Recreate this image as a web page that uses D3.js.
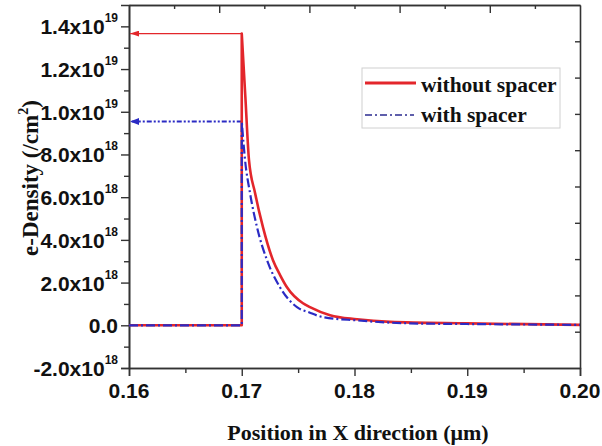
<!DOCTYPE html>
<html>
<head>
<meta charset="utf-8">
<script src="https://cdn.jsdelivr.net/npm/d3@7"></script>
<style>
    body { margin: 0; background: #fff; }
    .frame path.domain { stroke: #333; stroke-width: 1.6px; }
    .frame line { stroke: #333; stroke-width: 1.4px; }
    .ticklab { font-family: "Liberation Sans", Arial, sans-serif; font-weight: bold; fill: #111; }
    .title { font-family: "Liberation Serif", "Times New Roman", serif; font-weight: bold; fill: #111; }
</style>
</head>
<body>
<svg id="chart" width="602" height="446"></svg>
<script>
// data (x in um, density in /cm2)
// first three points are the step at 0.17, the rest is the decay
var xRed = [0.160, 0.170, 0.170, 0.17032, 0.17064, 0.17118, 0.17188, 0.17277, 0.1734, 0.17401, 0.17543, 0.17605, 0.17783, 0.18022, 0.18315, 0.1900, 0.2000];
var yRed = [0, 0, 1.366e19, 1.07e19, 7.75e18, 6.2e18, 4.6e18, 3.05e18, 2.35e18, 1.78e18, 1.03e18, 8.5e17, 4.7e17, 2.8e17, 1.6e17, 9e16, 2e16];

var xBlue = [0.160, 0.170, 0.170, 0.17029, 0.17073, 0.17135, 0.17224, 0.17339, 0.1749, 0.1760, 0.17721, 0.18022, 0.18492, 0.1900, 0.2000];
var yBlue = [0, 0, 9.55e18, 7.75e18, 6.2e18, 4.6e18, 3.05e18, 1.78e18, 8.5e17, 6.0e17, 3.8e17, 2.3e17, 9e16, 6e16, 2e16];

// arrows pointing at the peak values
var peakRed = 1.366e19;
var peakBlue = 9.545e18;

var xTicks = [0.16, 0.17, 0.18, 0.19, 0.20];
var xTickLabels = ['0.16', '0.17', '0.18', '0.19', '0.20'];
var yTicks = [-2e18, 0, 2e18, 4e18, 6e18, 8e18, 1e19, 1.2e19, 1.4e19];
var yTickMant = ['-2.0x10', '0.0', '2.0x10', '4.0x10', '6.0x10', '8.0x10', '1.0x10', '1.2x10', '1.4x10'];
var yTickExp = ['18', '', '18', '18', '18', '18', '19', '19', '19'];

var legendNames = ['without spacer', 'with spacer'];

var svg = d3.select('#chart');
// plot box (window.top is reserved, so no plain "top" here)
var pLeft = 129, pRight = 580, pTop = 5, pBottom = 368;

var x = d3.scaleLinear().domain([0.16, 0.20]).range([pLeft, pRight]);
var y = d3.scaleLinear().domain([-2e18, 1.5e19]).range([pBottom, pTop]);

// top and right axes have their own tick spacing in the original
var xTop = d3.scaleLinear().domain([0, 5]).range([pLeft, pRight]);
var yRight = d3.scaleLinear().domain([0, 10]).range([pBottom, pTop]);

var halfX = [0.165, 0.175, 0.185, 0.195];
var halfY = [-1e18, 1e18, 3e18, 5e18, 7e18, 9e18, 1.1e19, 1.3e19];

// bottom axis
svg.append('g').attr('class', 'frame')
    .attr('transform', 'translate(0,' + pBottom + ')')
    .call(d3.axisBottom(x).tickValues(xTicks).tickSize(8).tickFormat(''));
svg.append('g').attr('class', 'frame')
    .attr('transform', 'translate(0,' + pBottom + ')')
    .call(d3.axisBottom(x).tickValues(halfX).tickSize(5).tickFormat('').tickSizeOuter(0));

// left axis
svg.append('g').attr('class', 'frame')
    .attr('transform', 'translate(' + pLeft + ',0)')
    .call(d3.axisLeft(y).tickValues(yTicks).tickSize(8).tickFormat(''));
svg.append('g').attr('class', 'frame')
    .attr('transform', 'translate(' + pLeft + ',0)')
    .call(d3.axisLeft(y).tickValues(halfY).tickSize(5).tickFormat('').tickSizeOuter(0));

// top axis, ticks inward
svg.append('g').attr('class', 'frame')
    .attr('transform', 'translate(0,' + pTop + ')')
    .call(d3.axisBottom(xTop).tickValues([1, 2, 3, 4]).tickSize(8).tickFormat('').tickSizeOuter(0));
svg.append('g').attr('class', 'frame')
    .attr('transform', 'translate(0,' + pTop + ')')
    .call(d3.axisBottom(xTop).tickValues([0.5, 1.5, 2.5, 3.5, 4.5]).tickSize(4).tickFormat('').tickSizeOuter(0));

// right axis, ticks inward
svg.append('g').attr('class', 'frame')
    .attr('transform', 'translate(' + pRight + ',0)')
    .call(d3.axisLeft(yRight).tickValues(d3.range(1, 10)).tickSize(5).tickFormat('').tickSizeOuter(0));

// tick labels
svg.selectAll('.xlab').data(xTicks).enter().append('text')
    .attr('class', 'ticklab xlab')
    .attr('x', function(d) { return x(d); })
    .attr('y', 398)
    .attr('text-anchor', 'middle')
    .style('font-size', '21px')
    .text(function(d, i) { return xTickLabels[i]; });

var ylab = svg.selectAll('.ylab').data(yTicks).enter().append('text')
    .attr('class', 'ticklab ylab')
    .attr('x', 118)
    .attr('y', function(d) { return y(d) + 8; })
    .attr('text-anchor', 'end')
    .style('font-size', '21px');
ylab.append('tspan').text(function(d, i) { return yTickMant[i]; });
ylab.append('tspan')
    .attr('dy', -12)
    .style('font-size', '12px')
    .text(function(d, i) { return yTickExp[i]; });

// axis titles
svg.append('text').attr('class', 'title')
    .attr('x', 358).attr('y', 440)
    .attr('text-anchor', 'middle')
    .style('font-size', '22px')
    .text('Position in X direction (\u03bcm)');

var yt = svg.append('text').attr('class', 'title')
    .attr('transform', 'translate(38,178) rotate(-90)')
    .attr('text-anchor', 'middle')
    .style('font-size', '23px');
yt.append('tspan').text('e-Density (/cm');
yt.append('tspan').attr('dy', -10).style('font-size', '14px').text('2');
yt.append('tspan').attr('dy', 10).text(')');

// arrow heads, tip at the end of the line
var defs = svg.append('defs');
defs.append('marker').attr('id', 'headRed')
    .attr('viewBox', '0 0 10 10').attr('refX', 10).attr('refY', 5)
    .attr('markerWidth', 9).attr('markerHeight', 6).attr('markerUnits', 'userSpaceOnUse')
    .attr('preserveAspectRatio', 'none')
    .attr('orient', 'auto')
    .append('path').attr('d', 'M0,0L10,5L0,10z').attr('fill', '#e3262b');
defs.append('marker').attr('id', 'headBlue')
    .attr('viewBox', '0 0 10 10').attr('refX', 10).attr('refY', 5)
    .attr('markerWidth', 9).attr('markerHeight', 7).attr('markerUnits', 'userSpaceOnUse')
    .attr('preserveAspectRatio', 'none')
    .attr('orient', 'auto')
    .append('path').attr('d', 'M0,0L10,5L0,10z').attr('fill', '#2b2bc4');

svg.append('line')
    .attr('x1', x(0.170)).attr('x2', x(0.1601))
    .attr('y1', y(peakRed)).attr('y2', y(peakRed))
    .attr('stroke', '#e3262b').attr('stroke-width', 1.2)
    .attr('marker-end', 'url(#headRed)');
svg.append('line')
    .attr('x1', x(0.170)).attr('x2', x(0.1601))
    .attr('y1', y(peakBlue)).attr('y2', y(peakBlue))
    .attr('stroke', '#2b2bc4').attr('stroke-width', 2)
    .attr('stroke-dasharray', '5,2,2,2,2,2')
    .attr('marker-end', 'url(#headBlue)');

// the two curves, red first so the blue dash-dot sits on top.
// the step part is straight, the decay part is smoothed
var line = d3.line()
    .x(function(d) { return x(d[0]); })
    .y(function(d) { return y(d[1]); });
var smooth = d3.line()
    .x(function(d) { return x(d[0]); })
    .y(function(d) { return y(d[1]); })
    .curve(d3.curveMonotoneX);

function curvePath(xs, ys) {
    var pts = d3.zip(xs, ys);
    var step = line(pts.slice(0, 3));
    var decay = smooth(pts.slice(2));
    return step + 'L' + decay.slice(1);
}

svg.append('path')
    .attr('d', curvePath(xRed, yRed))
    .attr('fill', 'none')
    .attr('stroke', '#e3262b')
    .attr('stroke-width', 2.6)
    .attr('stroke-linejoin', 'round');

svg.append('path')
    .attr('d', curvePath(xBlue, yBlue))
    .attr('fill', 'none')
    .attr('stroke', '#2b2bc4')
    .attr('stroke-width', 2.2)
    .attr('stroke-dasharray', '9,3,2,3');

// legend
var lg = svg.append('g').attr('transform', 'translate(362,68)');
lg.append('rect')
    .attr('width', 198).attr('height', 60)
    .attr('fill', '#fff').attr('stroke', '#d0d0d0').attr('stroke-width', 1);
lg.append('line').attr('x1', 3).attr('x2', 54).attr('y1', 15).attr('y2', 15)
    .attr('stroke', '#e3262b').attr('stroke-width', 3);
lg.append('line').attr('x1', 3).attr('x2', 52).attr('y1', 47).attr('y2', 47)
    .attr('stroke', '#2b2b90').attr('stroke-width', 1.5)
    .attr('stroke-dasharray', '7,3,2,3');
lg.selectAll('.lgtext').data(legendNames).enter().append('text')
    .attr('class', 'title lgtext')
    .attr('x', 59)
    .attr('y', function(d, i) { return 24 + i * 30; })
    .style('font-size', '21.5px')
    .text(function(d) { return d; });
</script>
</body>
</html>
